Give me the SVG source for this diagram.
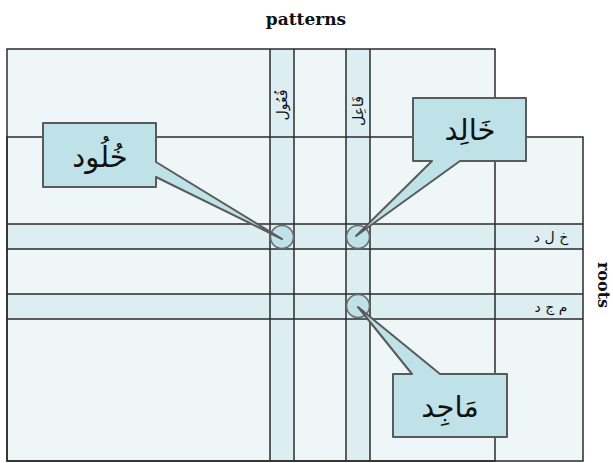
<svg xmlns="http://www.w3.org/2000/svg" width="613" height="463" viewBox="0 0 613 463">
  <style>
    .area { fill: #eef6f8; stroke: none; }
    .band { fill: #ddeef2; stroke: none; }
    .edge { fill: none; stroke: #2b2b2b; stroke-width: 1.5; }
    .callout { fill: #bfe2e9; stroke: #5a5a5a; stroke-width: 2; stroke-linejoin: round; }
    .dot { fill: #bfe2e9; stroke: #6a6a6a; stroke-width: 1.5; }
    .axis { font-family: "DejaVu Serif", "Liberation Serif", serif; font-weight: bold; font-size: 17px; fill: #111; }
    .word { font-family: "DejaVu Sans", "Noto Sans", sans-serif; font-size: 29px; fill: #111; }
    .small { font-family: "DejaVu Sans", "Noto Sans", sans-serif; font-size: 14px; fill: #111; }
  </style>

  <!-- axis titles -->
  <text class="axis" x="306" y="25" text-anchor="middle">patterns</text>
  <text class="axis" transform="translate(598,285) rotate(90)" text-anchor="middle" style="font-size:16px">roots</text>

  <!-- regions and bands -->
  <g id="grid">
    <rect class="area" x="7" y="49" width="488" height="412"/>
    <rect class="area" x="7" y="137" width="576" height="324"/>
    <rect class="band" x="270" y="49" width="24" height="412"/>
    <rect class="band" x="346" y="49" width="24" height="412"/>
    <rect class="band" x="7" y="224" width="576" height="25"/>
    <rect class="band" x="7" y="294" width="576" height="25"/>
    <rect class="edge" x="7" y="49" width="488" height="412"/>
    <rect class="edge" x="7" y="137" width="576" height="324"/>
    <path class="edge" d="M270 49V461M294 49V461M346 49V461M370 49V461M7 224H583M7 249H583M7 294H583M7 319H583"/>
  </g>

  <!-- band labels -->
  <g id="pattern-labels">
    <text class="small" transform="translate(287,105) rotate(-90)" text-anchor="middle">فُعُول</text>
    <text class="small" transform="translate(363,111) rotate(-90)" text-anchor="middle">فَاعِل</text>
  </g>
  <g id="root-labels">
    <text class="small" x="551" y="242" text-anchor="middle">خ ل د</text>
    <text class="small" x="551" y="312" text-anchor="middle">م ج د</text>
  </g>

  <!-- intersection markers -->
  <g id="markers">
    <circle class="dot" cx="282" cy="237" r="11.5"/>
    <circle class="dot" cx="358" cy="237" r="11.5"/>
    <circle class="dot" cx="358" cy="306" r="11.5"/>
  </g>

  <!-- callouts -->
  <g id="khulud">
    <path class="callout" d="M43 123H156V162L282 239L156 177V187H43Z"/>
    <text class="word" x="100" y="167" text-anchor="middle">خُلُود</text>
  </g>
  <g id="khalid">
    <path class="callout" d="M413 98H526V161H460L356 236L432 161H413Z"/>
    <text class="word" x="470" y="140" text-anchor="middle">خَالِد</text>
  </g>
  <g id="majid">
    <path class="callout" d="M393 374H412L358 307L440 374H507V437H393Z"/>
    <text class="word" x="450" y="417" text-anchor="middle">مَاجِد</text>
  </g>
</svg>
